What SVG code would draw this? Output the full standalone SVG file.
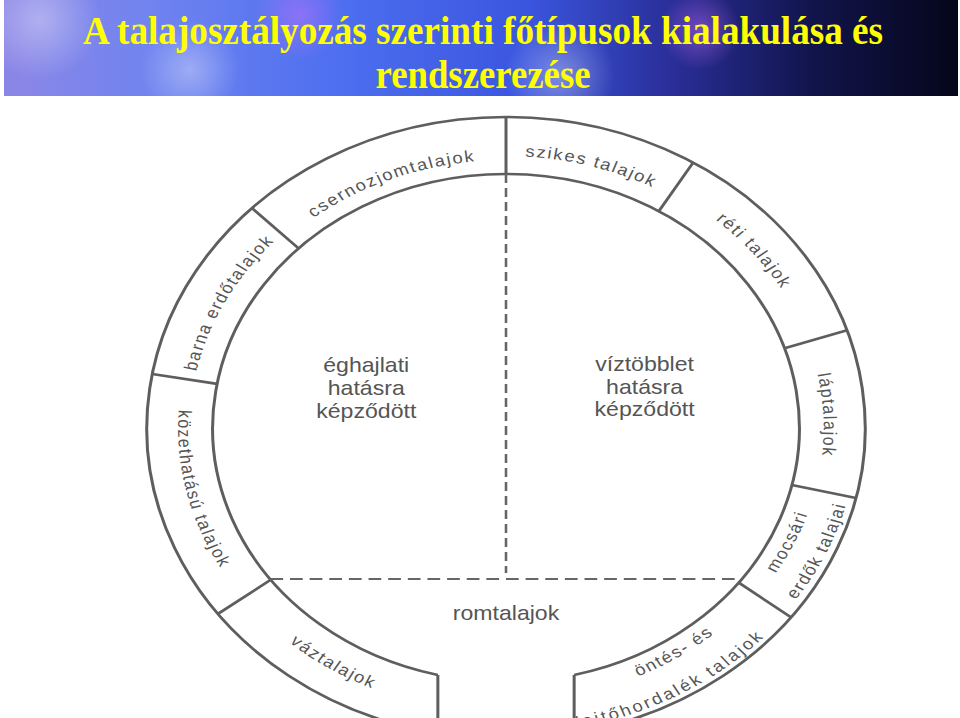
<svg xmlns="http://www.w3.org/2000/svg" width="960" height="718" viewBox="0 0 960 718">
<defs>
  <linearGradient id="hdr" x1="0" y1="0" x2="1" y2="0">
    <stop offset="0" stop-color="#8c86e6"/>
    <stop offset="0.15" stop-color="#7184ef"/>
    <stop offset="0.35" stop-color="#4d6ff0"/>
    <stop offset="0.55" stop-color="#3a55de"/>
    <stop offset="0.7" stop-color="#2a2e98"/>
    <stop offset="0.85" stop-color="#11144a"/>
    <stop offset="1" stop-color="#05061a"/>
  </linearGradient>
  <radialGradient id="blob">
    <stop offset="0" stop-color="#ffffff" stop-opacity="0.35"/>
    <stop offset="1" stop-color="#ffffff" stop-opacity="0"/>
  </radialGradient>
  <radialGradient id="blobv">
    <stop offset="0" stop-color="#d070ff" stop-opacity="0.45"/>
    <stop offset="1" stop-color="#d070ff" stop-opacity="0"/>
  </radialGradient>
  <path id="p-cs" d="M -236.6 -125.8 A 268 268 0 0 1 82.8 -254.9"/>
  <path id="p-ba" d="M -267.5 59.3 A 274 274 0 0 1 -104.9 -253.1"/>
  <path id="p-sz" d="M -111.9 -247.9 A 272 272 0 0 1 224.7 -153.3"/>
  <path id="p-re" d="M 50.3 -271.4 A 276 276 0 0 1 276 2.4"/>
  <path id="p-la" d="M 202.1 -186.5 A 275 275 0 0 1 218.8 166.7"/>
  <path id="p-mo" d="M 116.2 249.2 A 275 275 0 0 0 265.6 -71.2"/>
  <path id="p-er" d="M 130.9 274.4 A 304 304 0 0 0 293.1 -81.3"/>
  <path id="p-on" d="M -33.3 271.5 A 273.5 273.5 0 0 0 261.5 80"/>
  <path id="p-le" d="M -56.3 300.8 A 306 306 0 0 0 286.4 107.7"/>
  <path id="p-ko" d="M -253 -128.9 A 284 284 0 0 0 -170.9 226.8"/>
  <path id="p-va" d="M -271.8 85.7 A 285 285 0 0 0 37.2 282.6"/>
</defs>
<style>
  .ring{fill:none;stroke:#5e5e5e;stroke-width:2.6}
  .div{fill:none;stroke:#5e5e5e;stroke-width:2.6}
  .dash{fill:none;stroke:#666666;stroke-width:2.2}
  .lbl{font-family:"Liberation Sans",Arial,sans-serif;font-size:16px;fill:#555555;letter-spacing:1.5px}
  .wide{letter-spacing:2.3px}
  .big{font-family:"Liberation Sans",Arial,sans-serif;font-size:20px;fill:#555555;text-anchor:middle}
  .title{font-family:"Liberation Serif","Times New Roman",serif;font-weight:bold;font-size:40px;fill:#ffff00;text-anchor:middle}
</style>
<rect x="0" y="0" width="960" height="718" fill="#ffffff"/>
<g id="header">
  <rect x="4" y="0" width="954" height="96" fill="url(#hdr)"/>
  <circle cx="40" cy="20" r="60" fill="url(#blob)"/>
  <circle cx="190" cy="70" r="50" fill="url(#blob)"/>
  <circle cx="300" cy="15" r="45" fill="url(#blobv)"/>
  <circle cx="560" cy="75" r="55" fill="url(#blob)"/>
  <circle cx="700" cy="30" r="40" fill="url(#blobv)"/>
  <text class="title" x="483" y="44" textLength="800" lengthAdjust="spacingAndGlyphs">A talajosztályozás szerinti főtípusok kialakulása és</text>
  <text class="title" x="483" y="88" textLength="215" lengthAdjust="spacingAndGlyphs">rendszerezése</text>
</g>
<g transform="translate(506,428) scale(1.155,1)">
  <g id="ring">
    <path class="ring" d="M -59 305.4 A 311 311 0 1 1 59 305.4"/>
    <path class="ring" d="M -59 247 A 254 254 0 1 1 59 247"/>
    <path class="div" d="M -59 247 V 330 M 59 247 V 330"/>
  </g>
  <g id="connectors">
    <path class="dash" d="M 0 -254 V 145" stroke-dasharray="9 5"/>
    <path class="dash" d="M -204 151 H 203" stroke-dasharray="11 6"/>
  </g>
  <g id="dividers">
    <path class="div" d="M 0 -254 L 0 -311"/>
    <path class="div" d="M -179.6 -179.6 L -219.9 -219.9"/>
    <path class="div" d="M -250.1 -44.1 L -306.3 -54"/>
    <path class="div" d="M -203.7 151.8 L -249.4 185.9"/>
    <path class="div" d="M 132.3 -216.8 L 162 -265.4"/>
    <path class="div" d="M 241.2 -79.8 L 295.3 -97.7"/>
    <path class="div" d="M 247.5 57.1 L 303 70"/>
    <path class="div" d="M 201.5 154.6 L 246.7 189.3"/>
  </g>
  <g id="n-csernozjom"><text class="lbl"><textPath href="#p-cs" startOffset="50%" text-anchor="middle">csernozjomtalajok</textPath></text></g>
  <g id="n-barna"><text class="lbl"><textPath href="#p-ba" startOffset="50%" text-anchor="middle">barna erdőtalajok</textPath></text></g>
  <g id="n-szikes"><text class="lbl"><textPath href="#p-sz" startOffset="50%" text-anchor="middle">szikes talajok</textPath></text></g>
  <g id="n-reti"><text class="lbl"><textPath href="#p-re" startOffset="50%" text-anchor="middle">réti talajok</textPath></text></g>
  <g id="n-lap"><text class="lbl"><textPath href="#p-la" startOffset="50%" text-anchor="middle">láptalajok</textPath></text></g>
  <g id="n-mocsari">
    <text class="lbl"><textPath href="#p-mo" startOffset="50%" text-anchor="middle">mocsári</textPath></text>
    <text class="lbl"><textPath href="#p-er" startOffset="50%" text-anchor="middle">erdők talajai</textPath></text>
  </g>
  <g id="n-ontes">
    <text class="lbl"><textPath href="#p-on" startOffset="50%" text-anchor="middle">öntés- és</textPath></text>
    <text class="lbl wide"><textPath href="#p-le" startOffset="50%" text-anchor="middle">lejtőhordalék talajok</textPath></text>
  </g>
  <g id="n-kozet"><text class="lbl"><textPath href="#p-ko" startOffset="50%" text-anchor="middle">közethatású talajok</textPath></text></g>
  <g id="n-vaz"><text class="lbl"><textPath href="#p-va" startOffset="50%" text-anchor="middle">váztalajok</textPath></text></g>
  <g id="n-eghajlati">
    <text class="big" x="-121" y="-56">éghajlati</text>
    <text class="big" x="-121" y="-33">hatásra</text>
    <text class="big" x="-121" y="-10">képződött</text>
  </g>
  <g id="n-viztobblet">
    <text class="big" x="120" y="-57">víztöbblet</text>
    <text class="big" x="120" y="-34">hatásra</text>
    <text class="big" x="120" y="-12">képződött</text>
  </g>
  <g id="n-romtalajok"><text class="big" x="0" y="192">romtalajok</text></g>
</g>
</svg>
